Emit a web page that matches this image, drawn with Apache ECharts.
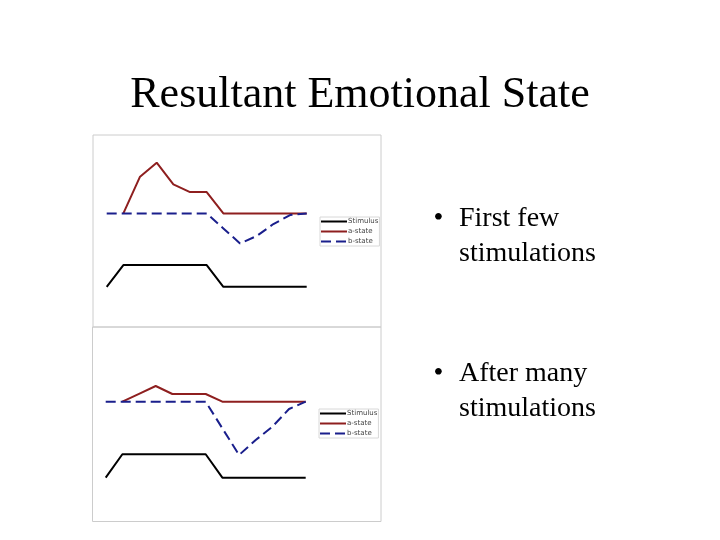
<!DOCTYPE html>
<html><head><meta charset="utf-8">
<script src="https://cdn.jsdelivr.net/npm/echarts@6/dist/echarts.min.js"></script>
<style>html,body{margin:0;padding:0;background:#fff}#c{width:720px;height:540px}</style>
</head><body><div id="c"></div>
<script>
const steps = ['1','2','3','4','5','6','7','8','9','10','11','12','13'];
const seriesNames = ['Stimulus', 'a-state', 'b-state'];
// Panel 1: first few stimulations
const stim1 = [0,1,1,1,1,1,1,0,0,0,0,0,0];
const a1 = ['-',0,11,15.2,8.7,6.4,6.4,0,0,0,0,0,0];
const b1 = [0,0,0,0,0,0,0,-4.5,-9,-6.8,-3.2,-0.5,0];
// Panel 2: after many stimulations
const stim2 = [0,1,1,1,1,1,1,0,0,0,0,0,0];
const a2 = ['-',0,2.35,4.7,2.3,2.3,2.3,0,0,0,0,0,0];
const b2 = [0,0,0,0,0,0,0,-8,-16,-11.5,-7.5,-2.2,0];
const titleText = 'Resultant Emotional State';
const bullets = [['First few','stimulations'],['After many','stimulations']];

const chart = echarts.init(document.getElementById('c'));
const serif = '"Liberation Serif","Times New Roman",serif';
const colors = {stim:'#000000', a:'#8e1f1f', b:'#1a1f8c'};

function mkSeries(gi, stim, a, b){
  return [
    {name:seriesNames[0], type:'line', xAxisIndex:gi, yAxisIndex:gi*2+1, data:stim, symbol:'none',
     lineStyle:{color:colors.stim, width:2}, itemStyle:{color:colors.stim}, z:3},
    {name:seriesNames[1], type:'line', xAxisIndex:gi, yAxisIndex:gi*2, data:a, symbol:'none',
     lineStyle:{color:colors.a, width:2}, itemStyle:{color:colors.a}, z:3},
    {name:seriesNames[2], type:'line', xAxisIndex:gi, yAxisIndex:gi*2, data:b, symbol:'none',
     lineStyle:{color:colors.b, width:2, type:[10,5]}, itemStyle:{color:colors.b}, z:4}
  ];
}
function legendAt(left, top){
  return {orient:'vertical', left:left, top:top, itemWidth:26, itemHeight:8, itemGap:3,
    padding:[1,1,1,0], borderColor:'#d8d8d8', borderWidth:1,
    itemStyle:{opacity:0},
    textStyle:{fontSize:7, color:'#444', fontFamily:'DejaVu Sans', padding:[0,0,0,-4]},
    data:seriesNames, selectedMode:false};
}
const t = (x,y,text,size) => ({type:'text', x:x, y:y, style:{text:text, font:size+'px '+serif, fill:'#000', verticalAlign:'middle'}});
chart.setOption({
  animation:false,
  backgroundColor:'#ffffff',
  grid:[
    {left:106.7, top:146.7, width:200, height:166.7},
    {left:105.7, top:335, width:200, height:166.7}
  ],
  xAxis:[
    {type:'category', gridIndex:0, data:steps, boundaryGap:false, show:false},
    {type:'category', gridIndex:1, data:steps, boundaryGap:false, show:false}
  ],
  yAxis:[
    {type:'value', gridIndex:0, min:-30, max:20, show:false},
    {type:'value', gridIndex:0, min:-1.226, max:6.456, show:false},
    {type:'value', gridIndex:1, min:-30, max:20, show:false},
    {type:'value', gridIndex:1, min:-1.026, max:6.098, show:false}
  ],
  legend:[legendAt(320,217), legendAt(319,409)],
  series:[...mkSeries(0, stim1, a1, b1), ...mkSeries(1, stim2, a2, b2)],
  graphic:[
    {type:'rect', shape:{x:93, y:135, width:288, height:192}, style:{fill:'none', stroke:'#cccccc', lineWidth:1}, z:-1},
    {type:'rect', shape:{x:92.5, y:327, width:288.5, height:194.5}, style:{fill:'none', stroke:'#cccccc', lineWidth:1}, z:-1},
    {type:'text', x:360, y:95, style:{text:titleText, font:'44px '+serif, fill:'#000', align:'center', verticalAlign:'middle'}},
    t(433.5,218.2,'\u2022',28), t(459,218.2,bullets[0][0],28), t(459,253.2,bullets[0][1],28),
    t(433.5,373.2,'\u2022',28), t(459,373.2,bullets[1][0],28), t(459,408.2,bullets[1][1],28)
  ]
});
</script></body></html>
